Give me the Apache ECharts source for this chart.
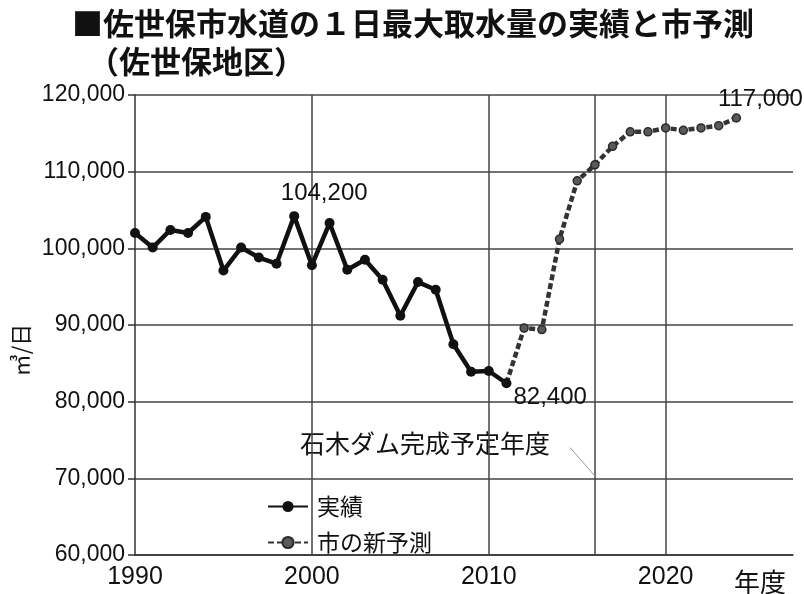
<!DOCTYPE html>
<html>
<head>
<meta charset="utf-8">
<script src="https://cdn.jsdelivr.net/npm/echarts@6/dist/echarts.min.js"></script>
<style>
html,body{margin:0;padding:0;background:#fff;}
#c{width:804px;height:594px;}
</style>
</head>
<body>
<div id="c"></div>
<script>
// ---- data ----
var actualYears = [1990,1991,1992,1993,1994,1995,1996,1997,1998,1999,2000,2001,2002,2003,2004,2005,2006,2007,2008,2009,2010,2011];
var actualValues = [102000,100100,102400,102000,104100,97100,100100,98800,98000,104200,97800,103300,97200,98500,95900,91200,95600,94600,87500,83900,84000,82400];
var forecastYears = [2011,2012,2013,2014,2015,2016,2017,2018,2019,2020,2021,2022,2023,2024];
var forecastValues = [82400,89600,89400,101200,108800,110900,113300,115200,115200,115700,115400,115700,116000,117000];
var xTickLabels = [1990,2000,2010,2020];
var verticalGridYears = [2000,2010,2016,2020];
var damYear = 2016;
var labeledPoints = {1999:'104,200', 2011:'82,400', 2024:'117,000'};
var seriesNames = ['実績','市の新予測'];
var titleLine1 = '■佐世保市水道の１日最大取水量の実績と市予測';
var titleLine2 = '（佐世保地区）';
var yAxisName = '㎥/日';
var xAxisName = '年度';
var damNote = '石木ダム完成予定年度';

var CJK = '"Noto Sans CJK JP", "Noto Sans", sans-serif';
var NUM = '"Liberation Sans", Arial, sans-serif';

function fmt(v){ return String(v).replace(/\B(?=(\d{3})+(?!\d))/g, ','); }

var actualData = actualYears.map(function(y,i){
  var item = {value:[y, actualValues[i]]};
  if (y === 1999) item.label = {show:true, position:'top', distance:6, offset:[30,0], formatter: labeledPoints[1999]};
  if (y === 2011) item.label = {show:true, position:'right', distance:2, offset:[0,14], formatter: labeledPoints[2011]};
  return item;
});
var forecastData = forecastYears.map(function(y,i){
  var item = {value:[y, forecastValues[i]]};
  if (i === 0) item.symbol = 'none';
  if (y === 2024) item.label = {show:true, position:'top', distance:2, offset:[24,0], formatter: labeledPoints[2024]};
  return item;
});

var chart = echarts.init(document.getElementById('c'));
var option = {
  backgroundColor:'#fff',
  animation:false,
  grid:{left:135, top:95, right:11, bottom:39, containLabel:false},
  legend:{
    data: seriesNames,
    orient:'vertical',
    left:262, top:490,
    itemWidth:40, itemHeight:14, itemGap:13,
    textStyle:{fontFamily:CJK, fontSize:23, color:'#111', padding:[0,0,0,4]}
  },
  xAxis:{
    type:'value', min:1990, max:2027.2, interval:10,
    axisLine:{show:true, lineStyle:{color:'#333', width:1.5}},
    axisTick:{show:false},
    splitLine:{show:false},
    axisLabel:{
      fontFamily:NUM, fontSize:25, color:'#111', margin:10,
      showMaxLabel:false,
      formatter:function(v){ return xTickLabels.indexOf(v) >= 0 ? String(v) : ''; }
    }
  },
  yAxis:{
    type:'value', min:60000, max:120000, interval:10000,
    axisLine:{show:true, lineStyle:{color:'#333', width:1.5}},
    axisTick:{show:true, length:7, lineStyle:{color:'#333', width:1.5}},
    splitLine:{show:true, lineStyle:{color:'#444', width:1.5}},
    axisLabel:{fontFamily:NUM, fontSize:23, color:'#111', margin:10, formatter:function(v){return fmt(v);}}
  },
  series:[
    {
      name: seriesNames[1], type:'line', z:2,
      data: forecastData,
      symbol:'circle', symbolSize:8,
      lineStyle:{color:'#333', width:4.5, type:[6,3]},
      itemStyle:{color:'#5a5a5a', borderColor:'#2a2a2a', borderWidth:1.5},
      label:{show:false, fontFamily:NUM, fontSize:24, color:'#111'},
      markLine:{
        silent:true, symbol:'none', z:1,
        label:{show:false},
        data: verticalGridYears.map(function(y){ return {xAxis:y, lineStyle:{color:'#444', width:1.5, type:'solid'}}; }).concat([
          [{coord:[2014.6, 74000], lineStyle:{color:'#999', width:1, type:'solid'}}, {coord:[damYear, 70300]}]
        ])
      }
    },
    {
      name: seriesNames[0], type:'line', z:3,
      data: actualData,
      symbol:'circle', symbolSize:10,
      lineStyle:{color:'#111', width:4.5},
      itemStyle:{color:'#111'},
      label:{show:false, fontFamily:NUM, fontSize:24, color:'#111'}
    }
  ],
  graphic:[
    {type:'text', left:72, top:8, style:{text:titleLine1, font:'bold 31px '+CJK, fill:'#111'}},
    {type:'text', left:88, top:46, style:{text:titleLine2, font:'bold 31px '+CJK, fill:'#111'}},
    {type:'text', x:21, y:350, rotation:Math.PI/2, style:{text:yAxisName, font:'22px '+CJK, fill:'#111', align:'center', verticalAlign:'middle'}},
    {type:'text', x:760, y:582, style:{text:xAxisName, font:'26px '+CJK, fill:'#111', align:'center', verticalAlign:'middle'}},
    {type:'text', x:300, y:443, style:{text:damNote, font:'25px '+CJK, fill:'#111', align:'left', verticalAlign:'middle'}}
  ]
};
chart.setOption(option);
</script>
</body>
</html>
